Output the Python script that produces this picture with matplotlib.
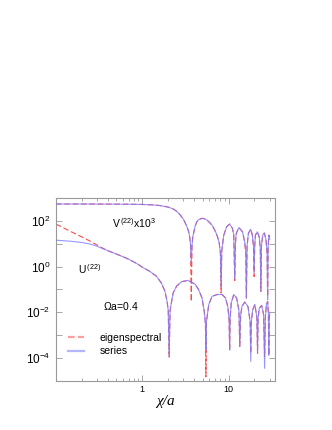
"""
U(22) / V(22) 对比图 - eigenspectral 与 series 两种算法
"""
import matplotlib
matplotlib.use("Agg")
import matplotlib.pyplot as plt
from matplotlib.lines import Line2D
from matplotlib.ticker import NullFormatter, LogLocator

# ============================================================
# 数据
# ============================================================

V_X = [0.1, 0.2, 0.4, 0.7, 1.0, 1.3, 1.6, 2.0, 2.28, 2.5, 2.74, 3.0, 3.13, 3.3,
       3.43, 3.55, 3.63, 3.7, 3.77, 3.85, 4.1, 4.3, 4.5, 4.92, 5.3, 5.63, 6.0,
       6.44, 6.8, 7.2, 7.5, 7.8, 8.05, 8.2, 8.35, 8.8, 9.5, 10.3, 11.1, 11.5,
       11.8, 12.05, 12.3, 13.2, 14.5, 15.4, 15.85, 16.1, 16.4, 17.0, 18.1, 18.9,
       19.45, 19.8, 20.1, 20.5, 21.5, 22.7, 23.35, 23.7, 24.1, 24.9, 26.0, 27.2,
       28.0, 28.4, 28.8, 29.4, 30.0]
V_EIG = [560, 560, 556, 548, 535, 515, 480, 410, 340, 270, 190, 120, 87, 55,
         37, 20, 9, 0.03, 8, 20, 60, 95, 115, 132, 125, 110, 88,
         66, 46, 29, 19, 11, 4, 0.07, 5, 24, 56, 74, 48, 25,
         0.25, 12, 29, 52, 34, 12, 4, 0.045, 8, 29, 44, 24,
         8, 0.37, 8, 24, 34, 20, 6, 0.083, 8, 24, 30, 15,
         4, 0.05, 8, 24, 20]
V_SER = [560, 560, 556, 548, 535, 515, 480, 410, 340, 270, 190, 120, 87, 55,
         37, 20, 9, 1.5, 8, 20, 60, 95, 115, 132, 125, 110, 88,
         66, 46, 29, 19, 11, 4, 0.12, 5, 24, 56, 74, 48, 25,
         0.3, 12, 29, 52, 34, 12, 4, 0.04, 8, 29, 44, 24,
         8, 0.55, 8, 24, 34, 20, 6, 0.083, 8, 24, 30, 15,
         4, 0.036, 8, 24, 16]

U_X = [0.1, 0.15, 0.2, 0.25, 0.3, 0.35, 0.4, 0.5, 0.6, 0.7, 0.8, 0.9, 1.0, 1.2,
       1.45, 1.67, 1.83, 1.94, 2.0, 2.05, 2.1, 2.19, 2.28, 2.5, 2.86, 3.4, 4.1,
       4.49, 4.92, 5.23, 5.4, 5.47, 5.55, 5.9, 6.44, 7.38, 8.43, 9.2, 9.8, 10.15,
       10.3, 10.45, 10.75, 11.5, 12.4, 13.2, 13.5, 13.8, 14.3, 15.4, 16.8, 17.8,
       18.1, 18.4, 19.1, 20.2, 21.3, 21.7, 22.0, 22.7, 24.2, 25.5, 26.2, 26.7,
       27.5, 28.4, 29.0, 29.3, 29.6, 30.0]
U_EIG = [74, 34, 20, 13, 8.8, 6.4, 5.0, 3.6, 2.7, 2.1, 1.6, 1.25, 0.95, 0.65,
         0.39, 0.19, 0.083, 0.03, 0.012, 1.1e-4, 0.012, 0.03, 0.07, 0.14, 0.22, 0.25, 0.17,
         0.10, 0.043, 0.011, 0.003, 1.5e-5, 0.004, 0.022, 0.05, 0.06, 0.06, 0.043, 0.018, 0.005,
         2.2e-4, 0.006, 0.026, 0.06, 0.043, 0.012, 3.2e-4, 0.007, 0.018, 0.028, 0.018, 0.004,
         1.6e-4, 0.004, 0.013, 0.022, 0.006, 1.6e-4, 0.005, 0.015, 0.02, 0.008, 1.1e-4, 0.006,
         0.022, 0.03, 0.008, 1.3e-4, 0.004, 0.01]
U_SER = [14.5, 13, 11.5, 9.8, 7.8, 6.1, 5.0, 3.6, 2.7, 2.1, 1.6, 1.25, 0.95, 0.65,
         0.39, 0.19, 0.083, 0.03, 0.012, 1.1e-4, 0.012, 0.03, 0.07, 0.14, 0.22, 0.25, 0.17,
         0.10, 0.043, 0.011, 0.003, 2.2e-4, 0.004, 0.022, 0.05, 0.06, 0.06, 0.043, 0.018, 0.005,
         2.2e-4, 0.006, 0.026, 0.06, 0.043, 0.012, 3.2e-4, 0.007, 0.018, 0.028, 0.018, 0.004,
         7e-5, 0.004, 0.013, 0.022, 0.006, 1.6e-4, 0.005, 0.015, 0.02, 0.008, 3.5e-5, 0.006,
         0.022, 0.03, 0.008, 1.3e-4, 0.004, 0.01]

# 颜色
RED = "#ff4a4a"
BLUE = "#7c7cff"
AXIS_GRAY = "#999999"

plt.rcParams.update({
    "font.family": ["Liberation Sans", "DejaVu Sans"],
    "mathtext.fontset": "custom",
    "mathtext.rm": "Liberation Sans",
    "mathtext.it": "Liberation Sans:italic",
    "mathtext.default": "rm",
})

fig = plt.figure(figsize=(3.32, 4.30), dpi=100)
ax = fig.add_axes([0.1687, 0.1147, 0.661, 0.4242])

# 曲线：先画虚线，再叠加实线
ax.plot(V_X, V_EIG, color=RED, lw=0.8, ls=(0, (5, 2.5)), zorder=2)
ax.plot(U_X, U_EIG, color=RED, lw=0.8, ls=(0, (5, 2.5)), zorder=2)
ax.plot(V_X, V_SER, color=BLUE, lw=0.8, alpha=0.8, zorder=3)
ax.plot(U_X, U_SER, color=BLUE, lw=0.8, alpha=0.8, zorder=3)

ax.set_xscale("log")
ax.set_yscale("log")
ax.set_xlim(0.1, 35)
ax.set_ylim(1e-5, 1e3)

# 坐标轴样式
for sp in ax.spines.values():
    sp.set_color(AXIS_GRAY)
    sp.set_linewidth(0.8)

ax.set_xticks([1, 10])
ax.set_xticklabels(["1", "10"])
ax.xaxis.set_minor_locator(LogLocator(base=10, subs=range(2, 10)))
ax.xaxis.set_minor_formatter(NullFormatter())

ax.set_yticks([1e-4, 1e-2, 1e0, 1e2])
ax.set_yticklabels([r"$10^{-4}$", r"$10^{-2}$", r"$10^{0}$", r"$10^{2}$"])
ax.set_yticks([1e-5, 1e-3, 1e-1, 1e1, 1e3], minor=True)
ax.yaxis.set_minor_formatter(NullFormatter())

ax.tick_params(axis="both", which="both", direction="in", top=True, right=True,
               color=AXIS_GRAY, width=0.6)
ax.tick_params(axis="y", which="both", length=4, labelsize=8.5, pad=4)
ax.tick_params(axis="x", which="major", length=4, labelsize=6.5, pad=3)
ax.tick_params(axis="x", which="minor", length=2)

ax.set_xlabel("χ/a", fontsize=11, family="Liberation Serif", style="italic", labelpad=1)

# 注释文字
ax.text(0.8, 80, r"V$^{\,(22)}$x10$^3$", fontsize=7.5, ha="center", va="center")
ax.text(0.245, 0.8, r"U$^{\,(22)}$", fontsize=7.5, ha="center", va="center")
ax.text(0.56, 0.018, r"$\Omega$a=0.4", fontsize=7.5, ha="center", va="center")

# 图例（浅色线条）
handles = [
    Line2D([], [], color="#ff9c9c", lw=1.6, ls=(0, (3, 1.5))),
    Line2D([], [], color="#b4b4ff", lw=1.6),
]
ax.legend(handles, ["eigenspectral", "series"], loc="lower left",
          bbox_to_anchor=(0.011, 0.082), frameon=False, fontsize=7.5,
          handlelength=1.6, handletextpad=1.45, labelspacing=0.35)

fig.savefig("out.png", dpi=100)
